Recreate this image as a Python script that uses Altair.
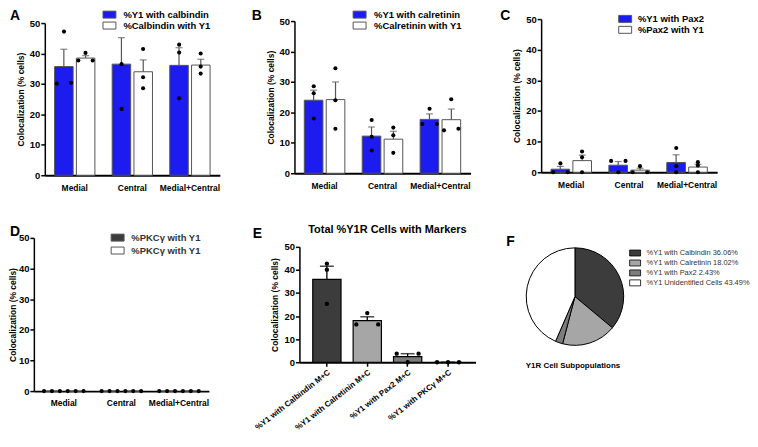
import altair as alt
import pandas as pd

FONT = "Liberation Sans"

groups = ["Medial", "Central", "Medial+Central"]

# ---- Panel A ----
a_series = ["%Y1 with calbindin", "%Calbindin with Y1"]
a_mean_1 = [35.7, 36.5, 36.1]
a_mean_2 = [38.5, 34.0, 36.2]
a_upper_1 = [41.4, 45.2, 41.9]
a_upper_2 = [39.3, 37.9, 38.1]
a_pts_1 = [[47.2, 30.1, 30.4], [36.5, 21.8], [42.9, 40.3, 25.3]]
a_pts_2 = [[40.2, 37.7, 37.7], [41.5, 32.2, 28.6], [40.0, 35.7, 33.4]]

# ---- Panel B ----
b_series = ["%Y1 with calretinin", "%Calretinin with Y1"]
b_mean_1 = [24.0, 12.2, 17.7]
b_mean_2 = [24.2, 11.2, 17.6]
b_upper_1 = [27.3, 15.2, 19.5]
b_upper_2 = [30.0, 13.8, 21.1]
b_pts_1 = [[28.6, 26.3, 18.0], [17.5, 12.0, 7.5], [21.2, 16.2, 16.2]]
b_pts_2 = [[34.5, 24.0, 14.6], [15.0, 12.5, 6.7], [24.3, 14.1, 14.6]]

# ---- Panel C ----
c_series = ["%Y1 with Pax2", "%Pax2 with Y1"]
c_mean_1 = [1.0, 2.3, 3.2]
c_mean_2 = [3.8, 0.7, 1.7]
c_upper_1 = [1.9, 3.5, 5.7]
c_upper_2 = [5.6, 1.3, 2.6]
c_pts_1 = [[2.9, 0.0, 0.0], [3.7, 3.7, 0.0], [7.9, 2.0, 0.0]]
c_pts_2 = [[6.8, 4.9, 0.0], [2.0, 0.0, 0.0], [2.2, 3.3, 0.0]]

# ---- Panel D ----
d_series = ["%Y1 with PKCγ", "%PKCγ with Y1"]
d_legend_label = "%PKCγ with Y1"
d_mean_1 = [0.0, 0.0, 0.0]
d_mean_2 = [0.0, 0.0, 0.0]
d_upper_1 = [0.0, 0.0, 0.0]
d_upper_2 = [0.0, 0.0, 0.0]
d_pts_1 = [[0.0, 0.0, 0.0], [0.0, 0.0, 0.0], [0.0, 0.0, 0.0]]
d_pts_2 = [[0.0, 0.0, 0.0], [0.0, 0.0, 0.0], [0.0, 0.0, 0.0]]

# ---- Panel E ----
e_title = "Total %Y1R Cells with Markers"
e_markers = ["%Y1 with Calbindin M+C", "%Y1 with Calretinin M+C",
             "%Y1 with Pax2 M+C", "%Y1 with PKCγ M+C"]
e_mean = [35.9, 18.0, 2.4, 0.0]
e_upper = [41.6, 19.7, 3.7, 0.0]
e_pts = [[42.7, 40.1, 25.3], [21.3, 16.4, 16.4], [3.7, 0.0, 3.7], [0.0, 0.0, 0.0]]

# ---- Panel F ----
f_labels = ["%Y1 with Calbindin 36.06%", "%Y1 with Calretinin 18.02%",
            "%Y1 with Pax2 2.43%", "%Y1 Unidentified Cells 43.49%"]
f_values = [36.06, 18.02, 2.43, 43.49]
f_caption = "Y1R Cell Subpopulations"

BLUE = "#1c1cf0"
DARK = "#3c3c3c"
LIGHT = "#a6a6a6"
MID = "#7c7c7c"
Y_TITLE = "Colocalization (% cells)"
RECT13 = "M-1.3,-0.7H1.3V0.7H-1.3Z"
RECT11 = "M-1.375,-0.75H1.375V0.75H-1.375Z"
SLOTS = ["L", "C", "R"]


def spread_slots(vals, thr=1.0):
    order = sorted(range(len(vals)), key=lambda i: vals[i])
    clusters = []
    for i in order:
        if clusters and vals[i] - vals[clusters[-1][-1]] < thr:
            clusters[-1].append(i)
        else:
            clusters.append([i])
    names = {1: ["C"], 2: ["L", "R"], 3: ["L", "C", "R"]}
    slots = [None] * len(vals)
    for cl in clusters:
        for i, nm in zip(cl, names[len(cl)]):
            slots[i] = nm
    return slots


def text_layer(txt, x, y, size, weight="bold", align="left", baseline="top", color="black"):
    return alt.Chart(pd.DataFrame({"t": [txt]})).mark_text(
        align=align, baseline=baseline, fontSize=size, fontWeight=weight,
        font=FONT, color=color
    ).encode(text="t:N", x=alt.value(x), y=alt.value(y))


def grouped_panel(series, colors, means, uppers, pts, letter, letter_xy,
                  view_w, view_h, x_range, y_range, axis_offset, title_pad,
                  legend_x, legend_y, row_pad, label_offset,
                  label_expr=None, legend_color="black", dot_pad=0.31):
    bar_rows, pt_rows = [], []
    for s, m_list, u_list, p_lists in zip(series, means, uppers, pts):
        for g, m, u, vals in zip(groups, m_list, u_list, p_lists):
            bar_rows.append({"group": g, "series": s, "mean": m, "upper": u})
            for v, sl in zip(vals, spread_slots(vals)):
                pt_rows.append({"group": g, "sub": s + "|" + sl, "value": v})
    bars_df = pd.DataFrame(bar_rows)
    pts_df = pd.DataFrame(pt_rows)
    sub_domain = [s + "|" + sl for s in series for sl in SLOTS]

    x = alt.X("group:N", sort=groups, title=None,
              scale=alt.Scale(range=x_range, paddingInner=0.3, paddingOuter=0.17),
              axis=alt.Axis(ticks=False, labelAngle=0, labelPadding=8,
                            labelFontSize=8.5, labelFontWeight="bold",
                            domainWidth=1.8, labelFont=FONT))
    xo = alt.XOffset("series:N", sort=series,
                     scale=alt.Scale(paddingInner=0.15, paddingOuter=0.0))
    xo_pts = alt.XOffset("sub:N", sort=sub_domain,
                         scale=alt.Scale(type="point", domain=sub_domain, padding=dot_pad))
    ysc = alt.Scale(domain=[0, 50], range=y_range, nice=False)
    yax = alt.Axis(title=Y_TITLE, values=[0, 10, 20, 30, 40, 50], offset=axis_offset,
                   titlePadding=title_pad)

    leg_kw = dict(orient="none", legendX=legend_x, legendY=legend_y, title=None,
                  symbolType=RECT13, symbolSize=100, symbolStrokeColor="#555",
                  symbolStrokeWidth=1, symbolOpacity=1, labelFont=FONT,
                  labelFontSize=9.5, labelFontWeight="bold",
                  labelColor=legend_color, labelOffset=label_offset,
                  rowPadding=row_pad, padding=0, labelLimit=300)
    if label_expr is not None:
        leg_kw["labelExpr"] = label_expr

    base = alt.Chart(bars_df)
    bars = base.mark_bar(stroke="#555", strokeWidth=1).encode(
        x=x, xOffset=xo,
        y=alt.Y("mean:Q", scale=ysc, axis=yax),
        color=alt.Color("series:N", sort=series,
                        scale=alt.Scale(domain=series, range=colors),
                        legend=alt.Legend(**leg_kw)),
    )
    err = base.mark_rule(color="#555", strokeWidth=1.2).encode(
        x=x, xOffset=xo, y=alt.Y("mean:Q", scale=ysc, axis=yax), y2="upper:Q")
    cap = base.mark_tick(orient="horizontal", size=7, thickness=1.2, color="#555").encode(
        x=x, xOffset=xo, y=alt.Y("upper:Q", scale=ysc, axis=yax))
    dots = alt.Chart(pts_df).mark_circle(size=17, color="black", opacity=1).encode(
        x=x, xOffset=xo_pts, y=alt.Y("value:Q", scale=ysc, axis=yax))
    lab = text_layer(letter, letter_xy[0], letter_xy[1], 14)
    return alt.layer(bars, err, cap, dots, lab).resolve_scale(
        xOffset="independent").properties(width=view_w, height=view_h)


panel_a = grouped_panel(a_series, [BLUE, "white"], [a_mean_1, a_mean_2],
                        [a_upper_1, a_upper_2], [a_pts_1, a_pts_2], "A", (-24, -10),
                        187, 157, [11, 187], [157, 4], -11, 4,
                        70.5, -10, -3.3, 8.5)
panel_b = grouped_panel(b_series, [BLUE, "white"], [b_mean_1, b_mean_2],
                        [b_upper_1, b_upper_2], [b_pts_1, b_pts_2], "B", (-36, -10),
                        184, 155, [7, 184], [155, 2], -7, 4,
                        67, -10, -3.3, 9)
panel_c = grouped_panel(c_series, [BLUE, "white"], [c_mean_1, c_mean_2],
                        [c_upper_1, c_upper_2], [c_pts_1, c_pts_2], "C", (-41, -10),
                        177, 154, [0, 177], [154, 0], 0, 4,
                        79, -5.7, -1.3, 7.3)
panel_d = grouped_panel(d_series, [DARK, "white"], [d_mean_1, d_mean_2],
                        [d_upper_1, d_upper_2], [d_pts_1, d_pts_2], "D", (-24, -13),
                        176, 154, [0, 176], [154, 0], 0, 1,
                        78.7, -5.8, 2, 8.3,
                        label_expr="'" + d_legend_label + "'", legend_color="#333",
                        dot_pad=0.05)

# ---- Panel E ----
e_bars_df = pd.DataFrame({"marker": e_markers, "mean": e_mean, "upper": e_upper})
e_rows = []
for m, vals in zip(e_markers, e_pts):
    for v, sl in zip(vals, spread_slots(vals)):
        e_rows.append({"marker": m, "value": v, "slot": sl})
e_pts_df = pd.DataFrame(e_rows)

ex = alt.X("marker:N", sort=e_markers, title=None,
           scale=alt.Scale(range=[12, 189], paddingInner=0.3, paddingOuter=0.33),
           axis=alt.Axis(labelAngle=-38, ticks=True, tickSize=4, tickWidth=1.5,
                         labelFontSize=8, labelFontWeight="bold", domainWidth=1.8,
                         labelLimit=300, labelPadding=2, labelFont=FONT))
esc = alt.Scale(domain=[0, 50], range=[125, 9], nice=False)
eax = alt.Axis(title=Y_TITLE, values=[0, 10, 20, 30, 40, 50], offset=-12, titlePadding=4)
e_base = alt.Chart(e_bars_df)
e_bar = e_base.mark_bar(stroke="black", strokeWidth=1.2).encode(
    x=ex, y=alt.Y("mean:Q", scale=esc, axis=eax),
    color=alt.Color("marker:N", sort=e_markers,
                    scale=alt.Scale(domain=e_markers, range=[DARK, LIGHT, MID, MID]),
                    legend=None))
e_err = e_base.mark_rule(color="black", strokeWidth=1.3).encode(
    x=ex, y=alt.Y("mean:Q", scale=esc, axis=eax), y2="upper:Q")
e_cap = e_base.mark_tick(orient="horizontal", size=14, thickness=1.5, color="black").encode(
    x=ex, y=alt.Y("upper:Q", scale=esc, axis=eax))
e_dots = []
for sl, off in [("L", -11), ("C", 0), ("R", 11)]:
    e_dots.append(
        alt.Chart(e_pts_df).transform_filter(alt.datum.slot == sl)
        .mark_circle(size=19, color="black", opacity=1, xOffset=off)
        .encode(x=ex, y=alt.Y("value:Q", scale=esc, axis=eax)))
panel_e = alt.layer(
    e_bar, e_err, e_cap, *e_dots,
    text_layer("E", -35, -11, 14),
    text_layer(e_title, 100.5, -5, 11, align="center", baseline="alphabetic"),
).properties(width=189, height=125)

# ---- Panel F ----
f_df = pd.DataFrame({"label": f_labels, "value": f_values,
                     "rank": list(range(len(f_labels)))})
pie = alt.Chart(f_df).mark_arc(outerRadius=49, stroke="black", strokeWidth=1).encode(
    theta=alt.Theta("value:Q", stack=True),
    order=alt.Order("rank:Q"),
    color=alt.Color("label:N", sort=f_labels,
                    scale=alt.Scale(domain=f_labels, range=[DARK, LIGHT, MID, "white"]),
                    legend=alt.Legend(orient="none", legendX=90, legendY=10.7, title=None,
                                      symbolType=RECT11, symbolSize=64,
                                      symbolStrokeColor="black", symbolStrokeWidth=0.8,
                                      symbolOpacity=1, labelFont=FONT, labelFontSize=7.5,
                                      labelColor="#333", labelOffset=7, rowPadding=-1,
                                      padding=0, labelLimit=300)))
panel_f = alt.layer(
    pie,
    text_layer("F", -35, -3, 14),
    text_layer(f_caption, 32, 129, 8, align="center", baseline="middle"),
).properties(width=68, height=118)

chart = alt.concat(
    panel_a, panel_b, panel_c, panel_d, panel_e, panel_f,
    columns=3, spacing={"row": 63, "column": 66}, bounds="flush", align="all",
).resolve_scale(
    x="independent", y="independent", color="independent", xOffset="independent"
).resolve_legend(color="independent").properties(
    padding={"left": 0, "top": 0, "right": 0, "bottom": 0}
).configure_view(stroke=None).configure_axis(
    grid=False, labelFont=FONT, titleFont=FONT, labelColor="black", titleColor="black",
    domainColor="black", tickColor="black"
).configure_axisY(
    labelFontSize=9.5, labelFontWeight="bold", titleFontSize=8.5, titleFontWeight="bold",
    tickSize=4, tickWidth=1.5, domainWidth=1.5, labelPadding=1
)

chart.save("out.html", embed_options={"renderer": "svg", "actions": False})
